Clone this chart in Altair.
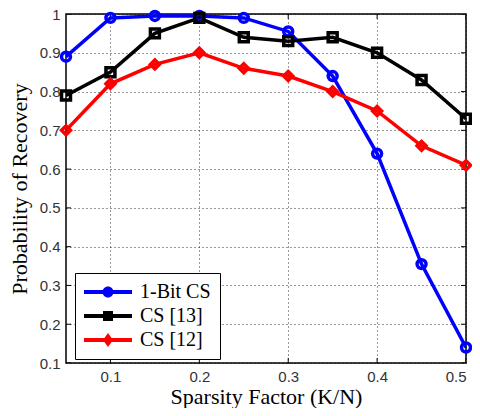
import altair as alt
import pandas as pd

x_vals = [0.05, 0.10, 0.15, 0.20, 0.25, 0.30, 0.35, 0.40, 0.45, 0.50]
bit1_cs = [0.89, 0.99, 0.995, 0.995, 0.99, 0.955, 0.84, 0.64, 0.355, 0.14]
cs_13 = [0.79, 0.85, 0.95, 0.99, 0.94, 0.93, 0.94, 0.90, 0.83, 0.73]
cs_12 = [0.70, 0.82, 0.87, 0.90, 0.86, 0.84, 0.80, 0.75, 0.66, 0.61]
series_names = ["1-Bit CS", "CS [13]", "CS [12]"]
series_colors = ["#0000ff", "#000000", "#ff0000"]
marker_shapes = ["circle", "square", "diamond"]
x_ticks = [0.1, 0.2, 0.3, 0.4, 0.5]
y_ticks = [0.1, 0.2, 0.3, 0.4, 0.5, 0.6, 0.7, 0.8, 0.9, 1.0]
x_domain = [0.05, 0.5]
y_domain = [0.1, 1.0]

rows = []
for name, vals in zip(series_names, [bit1_cs, cs_13, cs_12]):
    for xv, yv in zip(x_vals, vals):
        rows.append({"k": xv, "p": yv, "series": name})
df = pd.DataFrame(rows)

# inward tick marks on all four sides of the frame
ytick_df = pd.DataFrame([{"k": xe, "p": t} for xe in x_domain for t in y_ticks])
xtick_df = pd.DataFrame([{"k": t, "p": ye} for ye in y_domain for t in x_ticks])

# legend glyphs: line segment with marker (units of 10px, symbolSize=400)
bar = "M-1,-0.2 L3.8,-0.2 L3.8,0.2 L-1,0.2 Z "
legend_paths = [
    bar + "M0.85,0 A0.55,0.55 0 1,1 1.95,0 A0.55,0.55 0 1,1 0.85,0 Z",
    bar + "M0.9,-0.5 L1.9,-0.5 L1.9,0.5 L0.9,0.5 Z",
    bar + "M1.4,-0.7 L1.9,0 L1.4,0.7 L0.9,0 Z",
]

color_scale = alt.Scale(domain=series_names, range=series_colors)
xs = alt.Scale(domain=x_domain, nice=False, zero=False)
ys = alt.Scale(domain=y_domain, nice=False, zero=False)

x_axis = alt.Axis(values=x_ticks, format=".1~f", title="Sparsity Factor (K/N)",
                  grid=True, gridDash=[1, 3], gridColor="#000000", gridOpacity=0.8,
                  ticks=False, domain=False, labelOverlap=False,
                  labelFont="Liberation Sans", labelFontSize=15, labelColor="#333333",
                  labelPadding=6, titleFont="Liberation Serif", titleFontSize=22,
                  titleFontWeight="normal", titleColor="#000000", titlePadding=2)
y_axis = alt.Axis(values=y_ticks, format=".1~f", title="Probability of Recovery",
                  grid=True, gridDash=[1, 3], gridColor="#000000", gridOpacity=0.8,
                  ticks=False, domain=False, labelOverlap=False,
                  labelFont="Liberation Sans", labelFontSize=15, labelColor="#333333",
                  labelPadding=6, titleFont="Liberation Serif", titleFontSize=22,
                  titleFontWeight="normal", titleColor="#000000", titlePadding=8)

legend_cfg = alt.Legend(
    title=None, orient="none", legendX=9, legendY=259,
    symbolSize=400, symbolOpacity=1, symbolStrokeWidth=0,
    labelFont="Liberation Serif", labelFontSize=20, labelColor="#000000",
    labelOffset=36, rowPadding=4, padding=9,
    titleFontSize=1, titlePadding=0,
    strokeColor="#000000", fillColor="#ffffff",
)

X = alt.X("k:Q", scale=xs, axis=x_axis)
Y = alt.Y("p:Q", scale=ys, axis=y_axis)

lines = alt.Chart(df).mark_line(strokeWidth=3.5, clip=True).encode(
    x=X, y=Y,
    color=alt.Color("series:N", scale=color_scale, legend=None),
    detail="series:N",
)

points = alt.Chart(df).mark_point(filled=False, strokeWidth=3.5, size=80, opacity=1).encode(
    x=X, y=Y,
    color=alt.Color("series:N", scale=color_scale, legend=None),
    shape=alt.Shape("series:N", scale=alt.Scale(domain=series_names, range=marker_shapes), legend=None),
)

yticks_layer = alt.Chart(ytick_df).mark_tick(orient="horizontal", size=10, thickness=1,
                                              color="#000000", clip=True, opacity=1).encode(x=X, y=Y)
xticks_layer = alt.Chart(xtick_df).mark_tick(orient="vertical", size=10, thickness=1,
                                              color="#000000", clip=True, opacity=1).encode(x=X, y=Y)

legend_layer = alt.Chart(df).mark_point(filled=True, opacity=0).encode(
    x=X, y=Y,
    color=alt.Color("series:N", scale=color_scale, legend=legend_cfg),
    shape=alt.Shape(
        "series:N",
        scale=alt.Scale(domain=series_names, range=legend_paths),
        legend=legend_cfg,
    ),
)

chart = alt.layer(yticks_layer, xticks_layer, lines, points, legend_layer).resolve_scale(
    shape="independent", color="independent"
).properties(
    width=400, height=349,
    autosize=alt.AutoSizeParams(type="none"),
    padding={"left": 58, "top": 6, "right": 6, "bottom": 45},
).configure_view(stroke="#000000", strokeWidth=1.5)

chart.save("out.html", embed_options={"renderer": "svg", "actions": False})
